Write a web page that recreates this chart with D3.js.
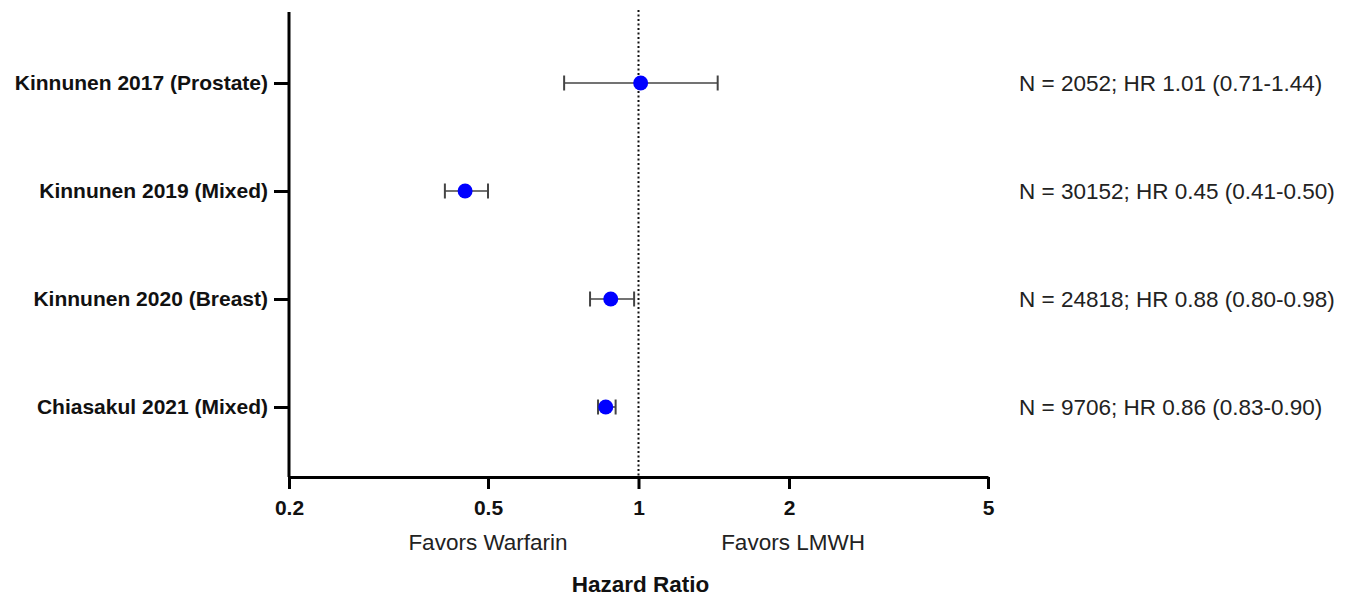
<!DOCTYPE html>
<html>
<head>
<meta charset="utf-8">
<script src="https://cdn.jsdelivr.net/npm/d3@7"></script>
<style>
  body { margin: 0; background: #fff; }
  svg { font-family: "Liberation Sans", Arial, sans-serif; }
  .axisText { font-size: 22.5px; fill: #222; }
</style>
</head>
<body>
<div class="chart"></div>
<script>
var studies = ["Kinnunen 2017 (Prostate)", "Kinnunen 2019 (Mixed)", "Kinnunen 2020 (Breast)", "Chiasakul 2021 (Mixed)"];
var hr = [1.01, 0.45, 0.88, 0.86];
var lower = [0.71, 0.41, 0.80, 0.83];
var upper = [1.44, 0.50, 0.98, 0.90];
var notes = [
  "N = 2052; HR 1.01 (0.71-1.44)",
  "N = 30152; HR 0.45 (0.41-0.50)",
  "N = 24818; HR 0.88 (0.80-0.98)",
  "N = 9706; HR 0.86 (0.83-0.90)"
];
var xTicks = [0.2, 0.5, 1, 2, 5];

var svgWidth = 1355;
var svgHeight = 599;
var margin = { top: 12, right: 367, bottom: 122, left: 289 };
var width = svgWidth - margin.left - margin.right;
var height = svgHeight - margin.top - margin.bottom;

var svg = d3.select(".chart")
  .append("svg")
  .attr("width", svgWidth)
  .attr("height", svgHeight);

var chart = svg.append("g")
  .attr("transform", "translate(" + margin.left + "," + margin.top + ")");

var xLogScale = d3.scaleLog()
  .domain([0.2, 5])
  .range([0, width]);

var yBandScale = d3.scalePoint()
  .domain(studies)
  .range([71, 395]);

// reference line at HR = 1
chart.append("line")
  .attr("x1", xLogScale(1))
  .attr("x2", xLogScale(1))
  .attr("y1", -2)
  .attr("y2", height)
  .attr("stroke", "#111")
  .attr("stroke-width", 2)
  .attr("stroke-dasharray", "2,2.5");

// error bars
var rows = studies.map(function(s, i) {
  return { study: s, hr: hr[i], lo: lower[i], hi: upper[i], note: notes[i] };
});

var bars = chart.selectAll(".ci")
  .data(rows)
  .enter().append("g")
  .attr("class", "ci")
  .attr("stroke", "#444")
  .attr("stroke-width", 1.6);

bars.append("line")
  .attr("x1", function(d) { return xLogScale(d.lo); })
  .attr("x2", function(d) { return xLogScale(d.hi); })
  .attr("y1", function(d) { return yBandScale(d.study); })
  .attr("y2", function(d) { return yBandScale(d.study); });

bars.selectAll(".cap")
  .data(function(d) { return [d.lo, d.hi].map(function(v) { return { v: v, y: yBandScale(d.study) }; }); })
  .enter().append("line")
  .attr("x1", function(c) { return xLogScale(c.v); })
  .attr("x2", function(c) { return xLogScale(c.v); })
  .attr("y1", function(c) { return c.y - 7.5; })
  .attr("y2", function(c) { return c.y + 7.5; })
  .attr("stroke-width", 2);

chart.selectAll("circle")
  .data(rows)
  .enter().append("circle")
  .attr("cx", function(d) { return xLogScale(d.hr); })
  .attr("cy", function(d) { return yBandScale(d.study); })
  .attr("r", 7.5)
  .attr("fill", "#0000ff");

// axes
var bottomAxis = d3.axisBottom(xLogScale)
  .tickValues(xTicks)
  .tickFormat(d3.format("~g"))
  .tickSize(12)
  .tickSizeOuter(0);
var leftAxis = d3.axisLeft(yBandScale)
  .tickSize(15)
  .tickSizeOuter(0)
  .tickPadding(6);

var xg = chart.append("g")
  .attr("transform", "translate(0," + height + ")")
  .call(bottomAxis);
xg.select(".domain").attr("stroke", "#000").attr("stroke-width", 3);
xg.selectAll(".tick line").attr("stroke", "#000").attr("stroke-width", 3);
xg.selectAll(".tick text")
  .attr("y", 23)
  .attr("fill", "#111")
  .style("font-size", "21px")
  .style("font-weight", "bold")
  .style("font-family", "Liberation Sans, Arial, sans-serif");

var yg = chart.append("g").call(leftAxis);
yg.select(".domain").attr("d", "M0,0V" + height).attr("stroke", "#000").attr("stroke-width", 3);
yg.selectAll(".tick line").attr("stroke", "#000").attr("stroke-width", 3);
yg.selectAll(".tick text")
  .attr("fill", "#111")
  .style("font-size", "21px")
  .style("font-weight", "bold")
  .style("font-family", "Liberation Sans, Arial, sans-serif");

// right-hand annotations
chart.selectAll(".note")
  .data(rows)
  .enter().append("text")
  .attr("class", "axisText note")
  .attr("x", width + 31)
  .attr("y", function(d) { return yBandScale(d.study); })
  .attr("dy", "0.35em")
  .text(function(d) { return d.note; });

chart.append("text")
  .attr("class", "axisText")
  .attr("text-anchor", "middle")
  .attr("x", xLogScale(0.5))
  .attr("y", height + 73)
  .text("Favors Warfarin");

chart.append("text")
  .attr("class", "axisText")
  .attr("text-anchor", "middle")
  .attr("x", xLogScale(2) + 4)
  .attr("y", height + 73)
  .text("Favors LMWH");

chart.append("text")
  .attr("text-anchor", "middle")
  .attr("x", xLogScale(1) + 2)
  .attr("y", height + 115)
  .style("font-size", "22.5px")
  .style("font-weight", "bold")
  .attr("fill", "#111")
  .text("Hazard Ratio");
</script>
</body>
</html>
